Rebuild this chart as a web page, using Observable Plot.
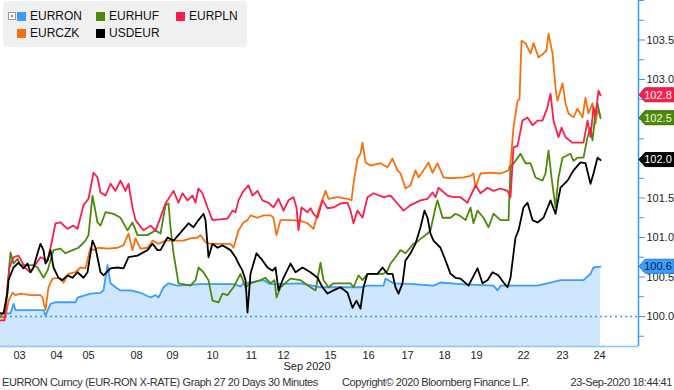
<!DOCTYPE html>
<html><head><meta charset="utf-8">
<script src="https://cdn.jsdelivr.net/npm/d3@7"></script>
<script src="https://cdn.jsdelivr.net/npm/@observablehq/plot@0.6"></script>
<style>
body{margin:0;background:#fff;font-family:"Liberation Sans",Arial,sans-serif;}
#wrap{position:relative;width:674px;height:390px;overflow:hidden;background:#fff;}
#chart{position:absolute;left:0;top:0;}
#legend{position:absolute;left:3px;top:1px;width:244px;height:46px;background:#f0f0f0;border-radius:3px;}
#legend .sw{position:absolute;width:9px;height:9px;}
#legend .lb{position:absolute;font-size:12px;line-height:14px;color:#111;white-space:nowrap;}
#legend .ic{position:absolute;left:5px;top:11px;width:6px;height:6px;border:1px solid #999;background:#fff;}
#legend .ic i{position:absolute;left:2px;top:2px;width:2px;height:2px;background:#888;}
#footer{position:absolute;left:0;top:374px;width:674px;height:16px;font-size:11px;line-height:16px;color:#333;letter-spacing:-0.4px;}
#footer span{position:absolute;top:0;white-space:nowrap;}
</style></head><body>
<div id="wrap"><div id="chart"></div><div id="legend"></div><div id="footer"></div></div>
<script>
// ---- data (x = 30-minute bar index, y = index value) ----
const seriesNames = ["EURRON","EURHUF","EURPLN","EURCZK","USDEUR"];
const tickPos = [19,56,88,136,172,212,251,283,330,368,407,444,476,523,562,599];
const tickLabels = ["03","04","05","08","09","10","11","12","15","16","17","18","19","22","23","24"];
const monthLabel = "Sep 2020";
const majorTicks = [100.0,100.5,101.0,101.5,102.0,102.5,103.0,103.5];
const labelTicks = [100.0,100.5,101.0,101.5,103.0,103.5]; // 102.0 / 102.5 are hidden under the value tags
const minorTicks = [99.75,100.25,100.75,101.25,101.75,102.25,102.75,103.25,103.75,104.0];

const eurron = [[0,100.04],[10,100.04],[13,100.16],[15,100.08],[43,100.08],[45,100.01],[50,100.16],[55,100.18],[75,100.18],[77,100.24],[90,100.29],[100,100.30],[103,100.33],[107,100.65],[110,100.42],[115,100.37],[120,100.33],[130,100.33],[140,100.30],[150,100.24],[155,100.27],[158,100.24],[163,100.37],[168,100.42],[177,100.39],[200,100.41],[233,100.41],[240,100.38],[243,100.42],[263,100.46],[270,100.41],[300,100.42],[320,100.37],[360,100.37],[367,100.39],[383,100.39],[385,100.48],[393,100.42],[413,100.41],[433,100.39],[440,100.43],[460,100.41],[493,100.39],[497,100.33],[500,100.39],[537,100.39],[550,100.43],[560,100.46],[583,100.46],[590,100.54],[593,100.62],[600,100.63]];

const usdeur = [[0,100.04],[3,100.04],[7,100.30],[8,100.46],[13,100.62],[18,100.68],[23,100.61],[27,100.67],[30,100.56],[33,100.62],[37,100.80],[40,100.92],[43,100.84],[45,100.67],[47,100.71],[50,100.84],[53,100.62],[58,100.49],[62,100.46],[67,100.52],[72,100.49],[77,100.56],[83,100.49],[87,100.56],[92,100.96],[95,100.87],[100,100.56],[103,100.52],[110,100.61],[117,100.62],[123,100.61],[128,100.75],[137,100.77],[147,100.84],[152,100.92],[157,100.84],[160,100.84],[167,101.00],[173,100.96],[182,101.09],[188,101.18],[193,101.13],[198,101.22],[203,101.30],[205,101.22],[208,100.75],[212,100.92],[217,100.87],[222,100.90],[230,100.84],[235,100.75],[238,100.67],[242,100.58],[245,100.46],[247,100.05],[250,100.54],[256,100.80],[262,100.71],[267,100.62],[272,100.58],[275,100.62],[278,100.33],[283,100.49],[290,100.67],[295,100.56],[302,100.62],[310,100.56],[317,100.49],[322,100.37],[327,100.29],[333,100.33],[340,100.37],[347,100.30],[352,100.11],[356,100.20],[360,100.10],[363,100.37],[367,100.54],[377,100.54],[382,100.62],[387,100.54],[392,100.54],[395,100.37],[398,100.29],[402,100.42],[405,100.71],[410,100.80],[415,100.92],[420,101.13],[424,101.34],[427,101.25],[430,101.05],[433,100.96],[440,100.87],[445,100.71],[450,100.54],[455,100.49],[460,100.48],[468,100.39],[477,100.61],[482,100.42],[487,100.46],[492,100.56],[498,100.52],[503,100.43],[507,100.37],[510,100.49],[515,101.00],[518,101.09],[523,101.38],[527,101.44],[532,101.22],[537,101.19],[543,101.25],[550,101.47],[555,101.30],[560,101.63],[567,101.72],[573,101.85],[580,101.95],[585,101.94],[590,101.68],[593,101.81],[597,102.01],[600,101.98]];

const eurhuf = [[0,100.00],[5,100.08],[10,100.81],[13,100.67],[17,100.73],[20,100.65],[33,100.65],[37,100.62],[43,100.49],[47,100.58],[53,100.84],[60,100.86],[65,100.80],[72,100.84],[78,100.87],[85,100.96],[88,101.03],[92,101.53],[97,101.19],[100,101.15],[105,101.32],[113,101.30],[120,101.25],[127,101.09],[132,101.19],[137,101.03],[147,101.03],[155,101.09],[160,101.05],[165,101.41],[168,101.43],[170,101.13],[173,100.80],[178,100.42],[190,100.39],[195,100.46],[198,100.62],[203,100.56],[208,100.46],[212,100.20],[218,100.18],[222,100.29],[227,100.27],[233,100.37],[240,100.54],[245,100.37],[250,100.42],[260,100.46],[265,100.49],[270,100.42],[274,100.46],[276,100.24],[280,100.37],[290,100.48],[300,100.46],[310,100.37],[315,100.33],[320,100.68],[323,100.46],[328,100.37],[333,100.42],[350,100.42],[353,100.37],[358,100.52],[362,100.46],[367,100.54],[383,100.54],[387,100.58],[390,100.67],[395,100.75],[400,100.84],[405,100.80],[413,100.92],[418,100.96],[427,101.05],[430,101.09],[435,101.38],[437,101.47],[442,101.25],[450,101.25],[455,101.30],[460,101.27],[465,101.22],[470,101.38],[473,101.18],[477,101.34],[483,101.25],[488,101.13],[493,101.30],[500,101.22],[508,101.22],[510,101.89],[515,101.97],[520,102.06],[525,101.94],[530,101.94],[535,101.76],[542,101.72],[545,101.81],[548,102.10],[551,101.76],[555,101.38],[558,101.76],[562,102.01],[570,102.06],[573,101.97],[577,102.01],[583,102.01],[587,102.27],[590,102.39],[592,102.23],[595,102.57],[597,102.70],[600,102.51]];

const eurpln = [[0,99.95],[4,99.95],[7,100.37],[9,100.62],[13,100.75],[18,100.77],[25,100.61],[30,100.56],[33,100.62],[40,100.75],[47,100.71],[50,100.87],[55,101.18],[60,101.19],[67,101.11],[73,101.15],[77,101.11],[83,101.41],[88,101.49],[93,101.82],[97,101.76],[100,101.57],[105,101.53],[110,101.68],[115,101.59],[120,101.72],[125,101.59],[128,101.68],[132,101.38],[135,101.22],[143,101.09],[150,101.15],[155,101.09],[159,101.22],[165,101.43],[173,101.59],[178,101.44],[182,101.56],[187,101.47],[192,101.53],[195,101.44],[198,101.62],[202,101.56],[207,101.38],[212,101.22],[227,101.24],[232,101.34],[235,101.32],[238,101.47],[243,101.59],[248,101.66],[252,101.53],[257,101.59],[262,101.47],[268,101.44],[273,101.38],[278,101.49],[283,101.34],[288,101.47],[293,101.51],[296,101.38],[298,101.09],[301,101.38],[307,101.32],[310,101.37],[313,101.30],[317,101.25],[322,101.47],[327,101.37],[333,101.38],[340,101.43],[347,101.44],[350,101.34],[353,101.18],[357,101.34],[362,101.25],[367,101.51],[373,101.56],[383,101.51],[390,101.53],[397,101.43],[403,101.34],[410,101.41],[420,101.47],[427,101.49],[432,101.57],[435,101.51],[438,101.63],[447,101.53],[453,101.51],[460,101.51],[467,101.44],[475,101.66],[480,101.56],[487,101.63],[493,101.59],[500,101.62],[507,101.59],[510,101.51],[513,102.14],[517,102.16],[522,102.48],[527,102.52],[532,102.42],[537,102.48],[542,102.48],[547,102.65],[550,102.82],[553,102.48],[558,102.27],[561,102.39],[565,102.27],[572,102.20],[583,102.20],[587,102.48],[590,102.27],[593,102.65],[595,102.54],[598,102.86],[600,102.80]];

const eurczk = [[0,99.99],[5,99.99],[8,100.20],[12,100.30],[15,100.27],[20,100.29],[30,100.27],[40,100.27],[42,100.24],[45,100.08],[48,100.37],[52,100.48],[58,100.49],[63,100.43],[68,100.54],[75,100.56],[80,100.62],[85,100.61],[90,100.87],[93,100.84],[98,100.87],[107,100.86],[117,100.87],[123,100.90],[128,101.05],[132,100.84],[135,100.99],[140,100.86],[147,100.87],[152,100.96],[158,100.92],[165,100.96],[183,100.96],[190,100.99],[197,101.00],[200,101.03],[205,100.94],[210,100.92],[230,100.92],[233,100.87],[238,101.09],[243,101.19],[247,101.22],[250,101.28],[257,101.25],[263,101.28],[270,101.28],[273,101.25],[276,101.03],[280,101.22],[290,101.22],[300,101.21],[307,101.18],[313,101.11],[318,101.34],[325,101.59],[328,101.49],[337,101.51],[347,101.49],[351,101.47],[353,101.68],[357,102.00],[360,102.06],[362,102.20],[365,101.95],[370,101.91],[380,101.94],[387,101.89],[392,102.00],[397,101.85],[400,101.81],[405,101.62],[410,101.66],[415,101.85],[418,101.76],[425,101.89],[428,101.95],[432,101.82],[437,101.94],[443,101.76],[450,101.75],[463,101.76],[470,101.78],[473,101.81],[475,101.63],[480,101.81],[490,101.82],[500,101.81],[508,101.85],[510,101.94],[513,102.39],[517,102.73],[519,102.75],[521,103.49],[525,103.46],[530,103.33],[533,103.46],[538,103.28],[543,103.33],[546,103.37],[548,103.58],[552,103.33],[555,102.90],[557,102.73],[562,102.95],[565,102.70],[568,102.57],[573,102.52],[577,102.63],[582,102.52],[585,102.77],[588,102.57],[592,102.70],[595,102.44],[597,102.61],[600,102.54]];

// value tags show the last value of these series
const tagSeries = [eurpln, eurhuf, usdeur, eurron];

// ---- styling ----
const colors = {EURRON:"#3a9dff", EURHUF:"#4e8a0a", EURPLN:"#fa1f4b", EURCZK:"#f7700f", USDEUR:"#000000"};
const tagFill = ["#fa1f4b","#4e8a0a","#000000","#3a9dff"];
const tagText = ["#ffffff","#f2f7e0","#ffffff","#0a1a3a"];
const xDomain = [0,638];
const yDomain = [99.62,104.0];
const lab = new Map(tickPos.map((p,i)=>[p,tickLabels[i]]));
const X = d=>d[0], Y = d=>d[1];
const font = "Liberation Sans, Arial, sans-serif";
const fmt = d3.format(".1f");

const plot = Plot.plot({
  width:674, height:374, marginLeft:0, marginRight:36, marginTop:0, marginBottom:28,
  style:{background:"transparent", fontFamily:font, fontSize:"11px", color:"#222", overflow:"visible"},
  x:{domain:xDomain, axis:null},
  y:{domain:yDomain, axis:null},
  marks:[
    Plot.areaY(eurron,{x:X, y1:()=>yDomain[0], y2:Y, fill:"#cfe6ff"}),
    Plot.ruleY([100],{stroke:"#3399ff", strokeWidth:1.5, strokeDasharray:"2,3"}),
    Plot.line(eurron,{x:X, y:Y, stroke:colors.EURRON, strokeWidth:1.8}),
    Plot.line(eurczk,{x:X, y:Y, stroke:colors.EURCZK, strokeWidth:1.8}),
    Plot.line(eurhuf,{x:X, y:Y, stroke:colors.EURHUF, strokeWidth:1.8}),
    Plot.line(eurpln,{x:X, y:Y, stroke:colors.EURPLN, strokeWidth:1.8}),
    Plot.line(usdeur,{x:X, y:Y, stroke:colors.USDEUR, strokeWidth:1.8}),
    Plot.ruleY([yDomain[0]],{stroke:"#8fc3f3", strokeWidth:1.5}),
    Plot.ruleX([xDomain[1]],{stroke:"#3399ff", strokeWidth:1.5}),
    Plot.axisY({anchor:"right", ticks:minorTicks, tickSize:5, tickFormat:()=>"", stroke:"#3399ff", label:null}),
    Plot.axisY({anchor:"right", ticks:majorTicks, tickSize:6, tickFormat:()=>"", stroke:"#3399ff", label:null}),
    Plot.axisY({anchor:"right", ticks:labelTicks, tickSize:6, tickPadding:2, tickFormat:fmt, stroke:"none", fill:"#222", fontSize:11, label:null}),
    Plot.axisX({ticks:tickPos, tickSize:0, tickPadding:5, tickFormat:d=>lab.get(d), fill:"#222", fontSize:11, label:null}),
    Plot.text([monthLabel],{x:()=> (tickPos[7]+tickPos[8])/2, frameAnchor:"bottom", dy:23, fontSize:11, fill:"#222", text:d=>d})
  ]
});
document.getElementById("chart").appendChild(plot);

// value tags on the right axis, positioned by the plot's scales
const sy = plot.scale("y"), sx = plot.scale("x");
const ax = sx.apply(xDomain[1]);
const svg = d3.select(plot);
const g = svg.append("g");
tagSeries.forEach((s,i)=>{
  const v = s[s.length-1][1];
  const y = sy.apply(v);
  g.append("path")
    .attr("d",`M${ax+1},${y} L${ax+7},${y-7} L674,${y-7} L674,${y+7} L${ax+7},${y+7} Z`)
    .attr("fill",tagFill[i]).attr("stroke",d3.color(tagFill[i]).darker(0.6)).attr("stroke-width",1);
  g.append("text").attr("x",ax+20).attr("y",y).attr("dy","0.35em")
    .attr("text-anchor","middle")
    .attr("font-size",11).attr("font-family",font).attr("fill",tagText[i]).text(fmt(v));
});

// legend
const legend = d3.select("#legend");
legend.append("div").attr("class","ic").append("i");
const legPos = [[14,11],[93,11],[173,11],[14,28],[93,28]];
seriesNames.forEach((n,i)=>{
  const [lx,ly]=legPos[i];
  legend.append("div").attr("class","sw").style("left",lx+"px").style("top",ly+"px").style("background",colors[n]);
  legend.append("div").attr("class","lb").style("left",(lx+13)+"px").style("top",(ly-3)+"px").text(n);
});

// footer
const footer = d3.select("#footer");
footer.append("span").style("left","2px").text("EURRON Curncy (EUR-RON X-RATE) Graph 27 20 Days 30 Minutes");
footer.append("span").style("left","342px").text("Copyright\u00a9 2020 Bloomberg Finance L.P.");
footer.append("span").style("right","2px").text("23-Sep-2020 18:44:41");
</script></body></html>
